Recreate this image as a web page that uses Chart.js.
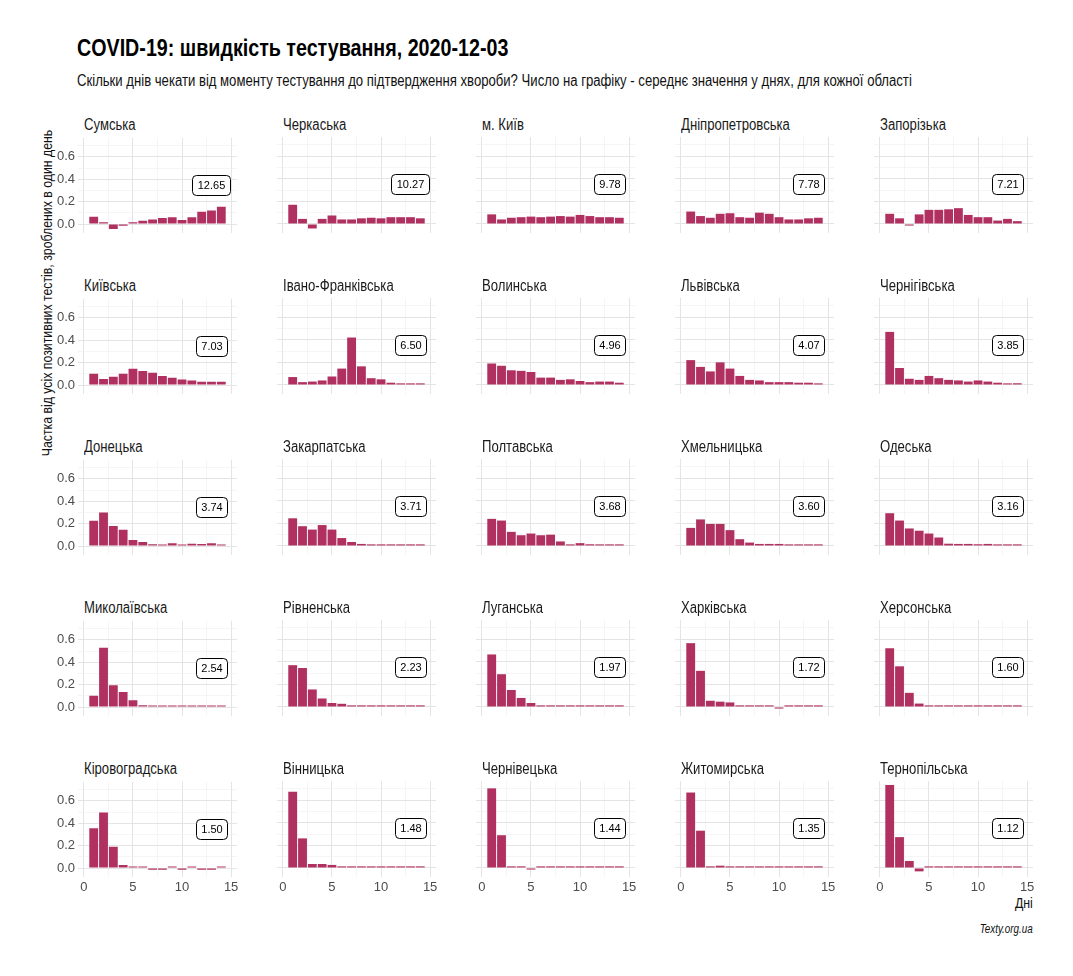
<!DOCTYPE html>
<html><head><meta charset="utf-8">
<script src="https://cdn.jsdelivr.net/npm/chart.js@4.4.1/dist/chart.umd.min.js"></script>
<style>
html,body{margin:0;padding:0;background:#fff;}
body{width:1073px;height:976px;position:relative;overflow:hidden;font-family:"Liberation Sans",Arial,sans-serif;color:#000;}
.abs{position:absolute;white-space:nowrap;line-height:1;}
.nl{transform:scaleX(0.82);transform-origin:0 50%;}
.nr{transform:scaleX(0.82);transform-origin:100% 50%;}
#title{left:77px;top:36px;font-size:24px;font-weight:bold;}
#subtitle{left:77px;top:73px;font-size:16px;color:#111;}
.strip{font-size:16px;color:#1a1a1a;}
#ytitle{left:46px;top:293px;font-size:15px;color:#111;transform:translate(-50%,-50%) rotate(-90deg) scaleX(0.82);}
#xtitle{right:40px;top:895px;font-size:15px;color:#111;}
#caption{right:40px;top:923px;font-size:12px;font-style:italic;color:#111;}
canvas{position:absolute;}
</style>
</head><body>
<div id="title" class="abs nl">COVID-19: швидкість тестування, 2020-12-03</div>
<div id="subtitle" class="abs nl">Скільки днів чекати від моменту тестування до підтвердження хвороби? Число на графіку - середнє значення у днях, для кожної області</div>
<div id="ytitle" class="abs">Частка від усіх позитивних тестів, зроблених в один день</div>
<div id="xtitle" class="abs nr">Дні</div>
<div id="caption" class="abs nr">Texty.org.ua</div>
<script>
// ---- data ----
const regions = ["Сумська","Черкаська","м. Київ","Дніпропетровська","Запорізька",
  "Київська","Івано-Франківська","Волинська","Львівська","Чернігівська",
  "Донецька","Закарпатська","Полтавська","Хмельницька","Одеська",
  "Миколаївська","Рівненська","Луганська","Харківська","Херсонська",
  "Кіровоградська","Вінницька","Чернівецька","Житомирська","Тернопільська"];
const meanDays = ["12.65","10.27","9.78","7.78","7.21","7.03","6.50","4.96","4.07","3.85",
  "3.74","3.71","3.68","3.60","3.16","2.54","2.23","1.97","1.72","1.60",
  "1.50","1.48","1.44","1.35","1.12"];
const days = [1,2,3,4,5,6,7,8,9,10,11,12,13,14];

const sumska          = [0.065,0.015,-0.045,-0.006,0.015,0.03,0.04,0.055,0.06,0.035,0.06,0.11,0.12,0.155];
const cherkaska       = [0.17,0.045,-0.04,0.045,0.075,0.04,0.04,0.05,0.055,0.05,0.06,0.06,0.06,0.05];
const kyivCity        = [0.085,0.04,0.055,0.06,0.065,0.06,0.065,0.07,0.065,0.08,0.07,0.06,0.06,0.055];
const dnipro          = [0.11,0.07,0.055,0.09,0.095,0.06,0.055,0.1,0.09,0.06,0.04,0.04,0.05,0.055];
const zaporizka       = [0.09,0.05,-0.012,0.085,0.125,0.125,0.13,0.14,0.08,0.06,0.06,0.03,0.045,0.025];
const kyivska         = [0.10,0.055,0.075,0.10,0.145,0.125,0.11,0.08,0.065,0.05,0.04,0.03,0.03,0.03];
const ivanoFrankivska = [0.07,0.025,0.03,0.04,0.075,0.145,0.42,0.165,0.06,0.05,0.02,0.012,0.012,0.012];
const volynska        = [0.19,0.17,0.13,0.125,0.115,0.065,0.065,0.045,0.05,0.035,0.025,0.03,0.03,0.02];
const lvivska         = [0.22,0.16,0.12,0.20,0.145,0.08,0.045,0.04,0.025,0.025,0.025,0.02,0.02,0.012];
const chernihivska    = [0.47,0.15,0.055,0.045,0.08,0.06,0.045,0.04,0.03,0.04,0.03,0.02,0.012,0.015];
const donetska        = [0.225,0.30,0.18,0.145,0.055,0.035,0.015,0.012,0.025,0.01,0.02,0.018,0.025,0.012];
const zakarpatska     = [0.245,0.175,0.145,0.185,0.145,0.07,0.035,0.018,0.012,0.012,0.012,0.012,0.012,0.01];
const poltavska       = [0.24,0.225,0.125,0.095,0.11,0.095,0.10,0.04,0.012,0.025,0.015,0.012,0.012,0.012];
const khmelnytska     = [0.16,0.235,0.195,0.195,0.14,0.06,0.03,0.018,0.018,0.018,0.012,0.012,0.012,0.012];
const odeska          = [0.29,0.225,0.155,0.135,0.11,0.075,0.02,0.018,0.018,0.015,0.018,0.012,0.012,0.012];
const mykolaivska     = [0.10,0.53,0.195,0.135,0.06,0.015,0.01,0.01,0.01,0.01,0.01,0.01,0.01,0.01];
const rivnenska       = [0.37,0.345,0.155,0.075,0.035,0.028,0.012,0.012,0.01,0.01,0.01,0.01,0.01,0.012];
const luhanska        = [0.465,0.29,0.15,0.08,0.035,0.012,0.012,0.01,0.01,0.01,0.01,0.01,0.01,0.01];
const kharkivska      = [0.565,0.32,0.055,0.047,0.04,0.012,0.01,0.012,0.01,-0.008,0.012,0.01,0.01,0.01];
const khersonska      = [0.52,0.36,0.125,0.03,0.012,0.01,0.01,0.01,0.01,0.01,0.01,0.01,0.01,0.01];
const kirovohradska   = [0.355,0.495,0.19,0.027,0.01,0.012,-0.008,-0.015,0.006,-0.008,0.006,-0.008,-0.006,0.006];
const vinnytska       = [0.675,0.262,0.035,0.035,0.027,0.01,0.01,0.01,0.01,0.01,0.01,0.01,0.01,0.01];
const chernivetska    = [0.705,0.29,0.01,0.01,-0.008,0.01,0.01,0.01,0.01,0.01,0.01,0.01,0.01,0.01];
const zhytomyrska     = [0.668,0.33,0.01,0.02,0.01,0.01,0.01,0.01,0.01,0.01,0.01,0.01,0.01,0.01];
const ternopilska     = [0.735,0.273,0.062,-0.03,0.01,0.01,0.01,0.01,0.01,0.01,0.01,0.01,0.01,0.01];

const shares = [sumska,cherkaska,kyivCity,dnipro,zaporizka,
  kyivska,ivanoFrankivska,volynska,lvivska,chernihivska,
  donetska,zakarpatska,poltavska,khmelnytska,odeska,
  mykolaivska,rivnenska,luhanska,kharkivska,khersonska,
  kirovohradska,vinnytska,chernivetska,zhytomyrska,ternopilska];

const xTickValues = [0,2.5,5,7.5,10,12.5,15];
const yTickValues = [0,0.1,0.2,0.3,0.4,0.5,0.6,0.7];

// ---- layout ----
const FONT = '"Liberation Sans",Arial,sans-serif';
const COL_X0 = 77.6, COL_STEP = 199;
const ROW_Y0 = 137, ROW_STEP = 161;
const AREA_W = 159, AREA_H = 96;
const Y_AXIS_W = 40, X_AXIS_H = 22, PAD_R = 10, PAD_T = 10;

const meanBox = {
  id: 'meanBox',
  afterDatasetsDraw(chart, args, opts) {
    const {ctx} = chart;
    const x = chart.scales.x, y = chart.scales.y;
    const px = x.getPixelForValue(13), py = y.getPixelForValue(0.35);
    ctx.save();
    ctx.font = '11px "Liberation Sans", Arial, sans-serif';
    const w = Math.round(ctx.measureText(opts.text).width + 10), h = 20;
    const bx = Math.round(px - w / 2) + 0.5, by = Math.round(py - h / 2) + 0.5;
    ctx.beginPath();
    ctx.roundRect(bx, by, w, h, 4);
    ctx.fillStyle = '#fff'; ctx.fill();
    ctx.lineWidth = 1; ctx.strokeStyle = '#000'; ctx.stroke();
    ctx.fillStyle = '#000'; ctx.textAlign = 'center'; ctx.textBaseline = 'middle';
    ctx.fillText(opts.text, bx + w / 2, by + h / 2 + 0.5);
    ctx.restore();
  }
};

regions.forEach((name, i) => {
  const col = i % 5, row = Math.floor(i / 5);
  const areaLeft = COL_X0 + col * COL_STEP;
  const areaTop = ROW_Y0 + row * ROW_STEP;

  const strip = document.createElement('div');
  strip.className = 'abs strip nl';
  strip.textContent = name;
  strip.style.left = (areaLeft + 6.5) + 'px';
  strip.style.top = (areaTop - 20) + 'px';
  document.body.appendChild(strip);

  const cv = document.createElement('canvas');
  const W = Y_AXIS_W + AREA_W + PAD_R, H = PAD_T + AREA_H + X_AXIS_H;
  cv.width = W; cv.height = H;
  cv.style.width = W + 'px'; cv.style.height = H + 'px';
  cv.style.left = (areaLeft - Y_AXIS_W) + 'px';
  cv.style.top = (areaTop - PAD_T) + 'px';
  document.body.appendChild(cv);

  new Chart(cv, {
    type: 'bar',
    data: {
      datasets: [{
        data: days.map((d, k) => ({x: d, y: shares[i][k]})),
        backgroundColor: '#B03060',
        borderWidth: 0,
        minBarLength: 1.6,
        barPercentage: 0.9,
        categoryPercentage: 1.0
      }]
    },
    options: {
      responsive: false,
      animation: false,
      devicePixelRatio: 1,
      layout: {padding: {left: 0, right: PAD_R, top: PAD_T, bottom: 0}},
      plugins: {legend: {display: false}, tooltip: {enabled: false}, meanBox: {text: meanDays[i]}},
      scales: {
        x: {
          type: 'linear', min: -0.6, max: 15.6, offset: false,
          afterBuildTicks: s => { s.ticks = xTickValues.map(v => ({value: v})); },
          afterFit: s => { s.height = X_AXIS_H; },
          border: {display: false},
          grid: {
            offset: false,
            drawTicks: false,
            color: c => (c.tick && c.tick.value % 5 === 0) ? '#e4e4e4' : '#efefef',
            lineWidth: c => (c.tick && c.tick.value % 5 === 0) ? 1 : 0.6
          },
          ticks: {
            display: row === 4, autoSkip: false, maxRotation: 0, padding: 3,
            color: '#4d4d4d', font: {family: FONT, size: 13},
            callback: v => (v % 5 === 0) ? String(v) : ''
          }
        },
        y: {
          min: -0.08, max: 0.77,
          afterBuildTicks: s => { s.ticks = yTickValues.map(v => ({value: v})); },
          afterFit: s => { s.width = Y_AXIS_W; },
          border: {display: false},
          grid: {
            drawTicks: false,
            color: c => (c.tick && Math.round(c.tick.value * 10) % 2 === 0) ? '#e4e4e4' : '#efefef',
            lineWidth: c => (c.tick && Math.round(c.tick.value * 10) % 2 === 0) ? 1 : 0.6
          },
          ticks: {
            display: col === 0, autoSkip: false, padding: 3,
            color: '#4d4d4d', font: {family: FONT, size: 13},
            callback: v => (Math.round(v * 10) % 2 === 0) ? v.toFixed(1) : ''
          }
        }
      }
    },
    plugins: [meanBox]
  });
});
</script>
</body></html>
